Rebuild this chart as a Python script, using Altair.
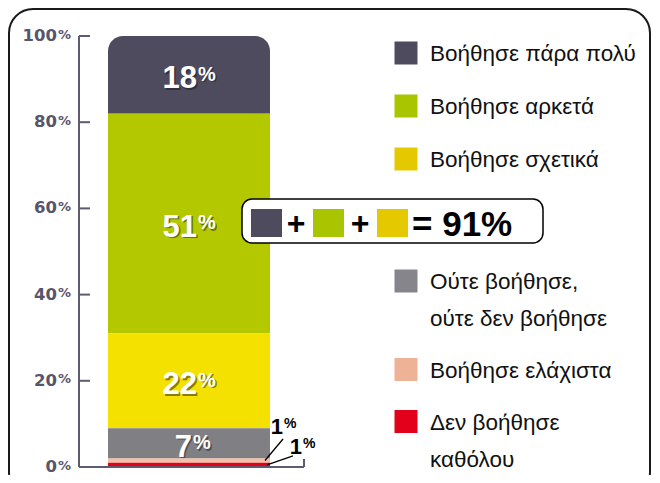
import altair as alt
import pandas as pd

# ---------------- data ----------------
categories = [
    "Βοήθησε πάρα πολύ",
    "Βοήθησε αρκετά",
    "Βοήθησε σχετικά",
    "Ούτε βοήθησε, ούτε δεν βοήθησε",
    "Βοήθησε ελάχιστα",
    "Δεν βοήθησε καθόλου",
]
legend_text = [
    "Βοήθησε πάρα πολύ",
    "Βοήθησε αρκετά",
    "Βοήθησε σχετικά",
    "Ούτε βοήθησε,\nούτε δεν βοήθησε",
    "Βοήθησε ελάχιστα",
    "Δεν βοήθησε\nκαθόλου",
]
values = [18, 51, 22, 7, 1, 1]
tick_values = [0, 20, 40, 60, 80, 100]
n_highlight = 3

bar_colors = ["#4e4b5f", "#b4c800", "#f5e100", "#808084", "#f6bfa8", "#e3001b"]
legend_colors = ["#4e4b5f", "#a9c500", "#e4c900", "#86858b", "#eeb396", "#e2001a"]

# ---------------- derived table ----------------
df = pd.DataFrame({"cat": categories, "value": values, "label": legend_text,
                   "order": list(range(1, len(categories) + 1))})
df["end"] = df["value"][::-1].cumsum()[::-1]
df["start"] = df["end"] - df["value"]
df["mid"] = (df["start"] + df["end"]) / 2
df["grp"] = "q"
ticks = pd.DataFrame({"t": tick_values})
total_text = f"= {sum(values[:n_highlight])}%"

SANS = "Liberation Sans"
AXC = "#5e5b70"
LABC = "#57546b"

ydom = alt.Scale(domain=[0, 100], zero=True, nice=False)


def yq(field):
    return alt.Y(field, type="quantitative", scale=ydom, axis=None)


xband = alt.X("grp:N", scale=alt.Scale(range=[29, 191], paddingInner=0, paddingOuter=0), axis=None)
bar_color = alt.Color("cat:N", scale=alt.Scale(domain=categories, range=bar_colors), legend=None)

base = alt.Chart(df)

bars = base.mark_bar(strokeWidth=0).encode(
    x=xband, y=yq("end"), y2="start", color=bar_color
).transform_filter(alt.datum.cat != categories[0])

bar_top = base.mark_bar(strokeWidth=0, cornerRadiusTopLeft=15, cornerRadiusTopRight=15).encode(
    x=xband, y=yq("end"), y2="start", color=bar_color
).transform_filter(alt.datum.cat == categories[0])


def big_label(flt, dx_num, dx_pct):
    layers = []
    for shadow in (True, False):
        col = "#1a1a1a" if shadow else "white"
        op = 0.5 if shadow else 1
        s = 1.5 if shadow else 0
        num = base.mark_text(font=SANS, fontSize=31, fontWeight="bold", color=col, opacity=op,
                             align="right", baseline="middle", dx=dx_num + s, dy=4.5 + s).encode(
            x=xband, y=yq("mid"), text=alt.Text("value:Q")).transform_filter(flt)
        pct = base.mark_text(font=SANS, fontSize=20, fontWeight="bold", color=col, opacity=op,
                             align="left", baseline="alphabetic", dx=dx_pct + s, dy=6 + s).encode(
            x=xband, y=yq("mid"), text=alt.value("%")).transform_filter(flt)
        layers += [num, pct]
    return layers


labels2 = big_label(alt.datum.value >= 10, 8, 9)
labels1 = big_label((alt.datum.value >= 5) & (alt.datum.value < 10), 3, 4)


def small_label(cat, dx_num, dy_num, dx_pct, dy_pct, x1, x2, y2off):
    flt = alt.datum.cat == cat
    num = base.mark_text(font=SANS, fontSize=22, fontWeight="bold", color="black",
                         align="right", baseline="middle", dx=dx_num, dy=dy_num).encode(
        x=xband, y=yq("mid"), text=alt.Text("value:Q")).transform_filter(flt)
    pct = base.mark_text(font=SANS, fontSize=14, fontWeight="bold", color="black",
                         align="left", baseline="alphabetic", dx=dx_pct, dy=dy_pct).encode(
        x=xband, y=yq("mid"), text=alt.value("%")).transform_filter(flt)
    lead = base.mark_rule(color="black", strokeWidth=1.3, y2Offset=y2off).encode(
        x=alt.value(x1), x2=alt.value(x2), y=yq("mid"), y2="mid").transform_filter(flt)
    return [num, pct, lead]


small = small_label(categories[4], 94, -33.7, 95, -32.8, 186, 204, -21.5) + \
    small_label(categories[5], 113, -17.7, 114, -16.8, 188, 214, -9)

tb = alt.Chart(ticks)
tick_rules = tb.mark_rule(color=AXC, strokeWidth=2).encode(y=yq("t"), x=alt.value(0), x2=alt.value(11))
y_line = tb.mark_rule(color=AXC, strokeWidth=2).encode(x=alt.value(0), y=yq("min(t)"), y2="max(t)")
x_line = tb.mark_rule(color=AXC, strokeWidth=2).encode(y=yq("min(t)"), x=alt.value(0), x2=alt.value(225))
x_end = tb.mark_rule(color=AXC, strokeWidth=2, y2Offset=-8).encode(x=alt.value(225), y=yq("min(t)"), y2="min(t)")
tick_num = tb.mark_text(font="DejaVu Sans", fontWeight="bold", fontSize=16.5, color=LABC,
                        align="right", baseline="middle").encode(x=alt.value(-22), y=yq("t"), text="t:Q")
tick_pct = tb.mark_text(font="DejaVu Sans", fontWeight="bold", fontSize=13, color=LABC,
                        align="left", baseline="alphabetic", dy=2.5).encode(x=alt.value(-21), y=yq("t"), text=alt.value("%"))

bar_group = alt.layer(bars, bar_top, *labels2, *labels1, *small,
                      tick_rules, y_line, x_line, x_end, tick_num, tick_pct)

# ---------------- legend + summary box ----------------
leg_y = alt.Y("order:Q", scale=alt.Scale(domain=[1, 2, 3, 4, 5, 6],
                                         range=[17, 70, 123, 245, 333.5, 385.5], zero=False, nice=False),
              axis=None)
leg_color = alt.Color("cat:N", scale=alt.Scale(domain=categories, range=legend_colors), legend=None)

leg_sq = base.mark_square(size=529, opacity=1, strokeWidth=0).encode(
    x=alt.value(327), y=leg_y, color=leg_color)
leg_tx = base.mark_text(font=SANS, fontSize=22.5, color="#111111", align="left", baseline="alphabetic",
                        dy=8.1, lineBreak="\n", lineHeight=37).encode(
    x=alt.value(351), y=leg_y, text="label:N")

one = alt.Chart(alt.Data(values=[{}]))
box = one.mark_rect(fill="white", stroke="black", strokeWidth=1.5, cornerRadius=10).encode(
    x=alt.value(163), x2=alt.value(464), y=alt.value(163), y2=alt.value(207))
box_sq = base.mark_rect(strokeWidth=0, x2Offset=31).encode(
    x=alt.X("order:Q", scale=alt.Scale(domain=[1, 2, 3], range=[172, 234, 298], zero=False, nice=False), axis=None),
    x2="order",
    y=alt.value(173), y2=alt.value(201), color=leg_color,
).transform_filter(alt.datum.order <= n_highlight)
plus = one.mark_text(font=SANS, fontWeight="bold", fontSize=32, color="black",
                     align="center", baseline="middle")
plus1 = plus.encode(x=alt.value(217), y=alt.value(188), text=alt.value("+"))
plus2 = plus.encode(x=alt.value(281), y=alt.value(188), text=alt.value("+"))
total = one.mark_text(font=SANS, fontWeight="bold", fontSize=35, color="black",
                      align="left", baseline="alphabetic").encode(
    x=alt.value(333), y=alt.value(200), text=alt.value(total_text))

legend_group = alt.layer(leg_sq, leg_tx, box, box_sq, plus1, plus2, total)

frame = one.mark_rect(fillOpacity=0, stroke="#1a1a1a", strokeWidth=2, cornerRadius=24).encode(
    x=alt.value(-70), x2=alt.value(571), y=alt.value(-27), y2=alt.value(460))

chart = alt.layer(frame, bar_group, legend_group).resolve_scale(
    x="independent", y="independent", color="independent"
).properties(
    width=573, height=431,
    padding={"left": 71, "top": 28, "right": 0, "bottom": 8},
    autosize=alt.AutoSizeParams(type="none"),
    background="white",
).configure_view(strokeWidth=0)

chart.save("out.html", embed_options={"renderer": "svg", "actions": False})
